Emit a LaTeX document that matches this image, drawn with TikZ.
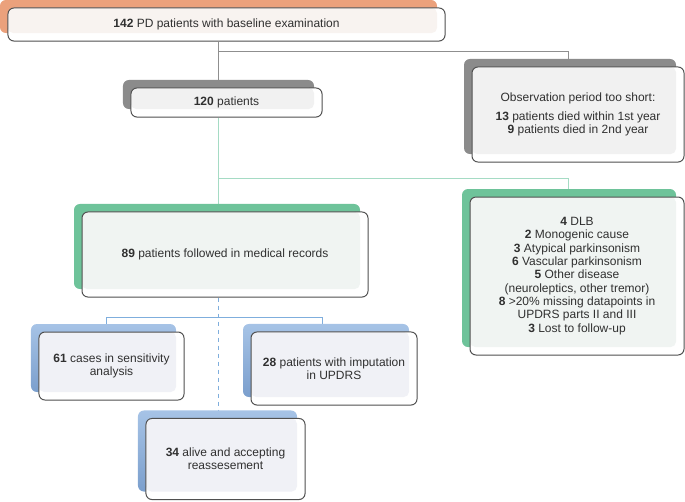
\documentclass[tikz,border=0pt]{standalone}
\usepackage{fontspec}
\setmainfont{Liberation Sans}
\usetikzlibrary{shadows,backgrounds}
\definecolor{orangeback}{HTML}{EBA17C}
\definecolor{toptint}{HTML}{F8F3F0}
\definecolor{grayback}{HTML}{8B8B8B}
\definecolor{graytint}{HTML}{F1F1F1}
\definecolor{greenback}{HTML}{6EC39A}
\definecolor{greentint}{HTML}{F0F4F2}
\definecolor{blueT}{HTML}{A6C3E6}
\definecolor{blueB}{HTML}{7B9FCD}
\definecolor{bluetint}{HTML}{F0F1F6}
\definecolor{boxline}{HTML}{505050}
\definecolor{txt}{HTML}{303030}
\definecolor{grayline}{HTML}{8F8F8F}
\definecolor{tealline}{HTML}{A5DBC4}
\definecolor{blueline}{HTML}{7FAEDD}

\begin{document}
\begin{tikzpicture}[x=0.75pt,y=0.75pt,yscale=-1,xscale=1,
    box/.style={draw=boxline, fill=white, line width=0.75pt, rounded corners=4.5pt, align=center, text=txt, font=\fontsize{9}{10}\selectfont,
      path picture={\fill[#1, rounded corners=4pt] (path picture bounding box.north west) rectangle ([xshift=-6pt,yshift=6pt]path picture bounding box.south east);}},
    back/.style={general shadow={fill=#1, shadow xshift=-6pt, shadow yshift=6pt}},
    blueback/.style={general shadow={top color=blueT, bottom color=blueB, shadow xshift=-6pt, shadow yshift=6pt}}]
    \useasboundingbox (0,0) rectangle (685,501);

    \draw (226.5,24.5) node (top) [box=toptint, back=orangeback, minimum width=327.8pt, minimum height=24.8pt] {\textbf{142} PD patients with baseline examination};
    \draw (226.5,102.5) node (p120) [box=graytint, back=grayback, minimum width=143.3pt, minimum height=21.8pt] {\textbf{120} patients};
    \draw (578,114.5) node (obs) [box=graytint, back=grayback, minimum width=159pt, minimum height=71.3pt] {Observation period too short:\\[4pt] \textbf{13} patients died within 1st year\\ \textbf{9} patients died in 2nd year};
    \draw (577,276) node (excl) [box=greentint, back=greenback, minimum width=160.5pt, minimum height=118.5pt] {\textbf{4} DLB\\ \textbf{2} Monogenic cause\\ \textbf{3} Atypical parkinsonism\\ \textbf{6} Vascular parkinsonism\\ \textbf{5} Other disease\\ (neuroleptics, other tremor)\\ \textbf{8} >20\% missing datapoints in\\ UPDRS parts II and III\\ \textbf{3} Lost to follow-up};
    \draw (225,254.5) node (follow) [box=greentint, back=greenback, minimum width=214.5pt, minimum height=63.8pt] {\textbf{89} patients followed in medical records};
    \draw (111.5,366) node (sens) [box=bluetint, blueback, minimum width=108.8pt, minimum height=51pt] {\textbf{61} cases in sensitivity\\ analysis};
    \draw (334,368.5) node (imput) [box=bluetint, blueback, minimum width=124.5pt, minimum height=54.8pt] {\textbf{28} patients with imputation\\ in UPDRS};
    \draw (225.5,459) node (alive) [box=bluetint, blueback, minimum width=119.3pt, minimum height=60.8pt] {\textbf{34} alive and accepting\\ reassesement};

    \coordinate (trunk) at (218,0);
    \coordinate (obsdrop) at (568,51);
    \coordinate (excldrop) at (568,178);
    \coordinate (sensdrop) at (106,317);
    \coordinate (imputdrop) at (322,317);

    \begin{scope}[on background layer, line width=0.8pt]
        \draw [grayline] (top.south -| trunk) -- (p120.north -| trunk);
        \draw [grayline] (obsdrop -| trunk) -- (obsdrop) -- (obs.north -| obsdrop);
        \draw [tealline] (p120.south -| trunk) -- (follow.north -| trunk);
        \draw [tealline] (excldrop -| trunk) -- (excldrop) -- (excl.north -| excldrop);
        \draw [blueline] (sensdrop) -- (imputdrop);
        \draw [blueline] (sensdrop) -- (sens.north -| sensdrop);
        \draw [blueline] (imputdrop) -- (imput.north -| imputdrop);
        \draw [blueline, dashed] (follow.south -| trunk) -- (alive.north -| trunk);
    \end{scope}
\end{tikzpicture}
\end{document}
